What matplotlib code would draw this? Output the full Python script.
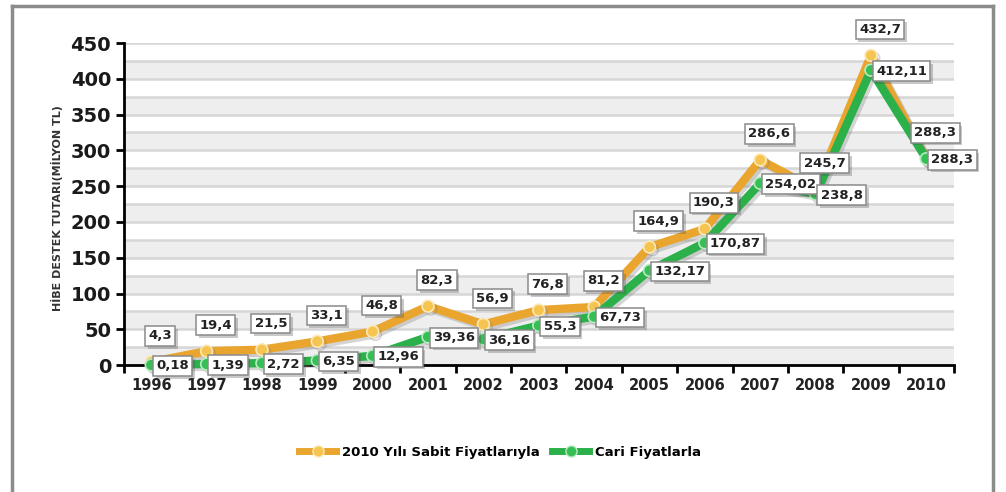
import matplotlib.pyplot as plt
import matplotlib.patheffects as pe
from matplotlib.lines import Line2D

years = ["1996", "1997", "1998", "1999", "2000", "2001", "2002", "2003",
         "2004", "2005", "2006", "2007", "2008", "2009", "2010"]
sabit = [4.3, 19.4, 21.5, 33.1, 46.8, 82.3, 56.9, 76.8, 81.2, 164.9,
         190.3, 286.6, 245.7, 432.7, 288.3]
cari = [0.18, 1.39, 2.72, 6.35, 12.96, 39.36, 36.16, 55.3, 67.73, 132.17,
        170.87, 254.02, 238.8, 412.11, 288.3]
sabit_name = "2010 Yılı Sabit Fiyatlarıyla"
cari_name = "Cari Fiyatlarla"

orange = "#E9A52E"
green = "#2BB04A"

plt.rcParams['font.family'] = ['DejaVu Sans']

fig = plt.figure(figsize=(10.06, 4.92), dpi=100)
ax = fig.add_axes([0.1228, 0.258, 0.8255, 0.6545])

x = list(range(len(years)))

# background bands and grid
for v in range(0, 450, 50):
    ax.axhspan(v, v + 25, color="#eeeeee", zorder=0, lw=0)
for v in range(25, 451, 25):
    ax.axhline(v, color="#d6d6d6", lw=1.8, zorder=0.5)

shadow = [pe.SimpleLineShadow(offset=(2, -2), shadow_color="#777777", alpha=0.3), pe.Normal()]

ax.plot(x, sabit, color=orange, lw=6, marker="o", ms=8.5, mfc="#F6C450",
        mec="#FCE9B8", mew=1.2, zorder=3, clip_on=False, path_effects=shadow)
ax.plot(x, cari, color=green, lw=6, marker="o", ms=8.5, mfc="#36BF55",
        mec="#B8EBC3", mew=1.2, zorder=4, clip_on=False, path_effects=shadow)

box = dict(boxstyle="square,pad=0.25", fc="white", ec="#8a8a8a", lw=1.1)

def fmt(v):
    s = ("%.2f" % v).rstrip("0").rstrip(".")
    return s.replace(".", ",")

for i, v in enumerate(sabit):
    t = ax.annotate(fmt(v), (i, v), xytext=(9, 26), textcoords="offset pixels",
                    ha="center", va="center", fontsize=9.5, fontweight="bold",
                    color="#222222", bbox=box, zorder=6, annotation_clip=False)
    t.get_bbox_patch().set_path_effects([pe.withSimplePatchShadow(offset=(2, -2), alpha=0.3)])

for i, v in enumerate(cari):
    t = ax.annotate(fmt(v), (i, v), xytext=(5, -1), textcoords="offset pixels",
                    ha="left", va="center", fontsize=9.5, fontweight="bold",
                    color="#222222", bbox=box, zorder=7, annotation_clip=False)
    t.get_bbox_patch().set_path_effects([pe.withSimplePatchShadow(offset=(2, -2), alpha=0.3)])

ax.set_xlim(-0.5, len(years) - 0.5)
ax.set_ylim(0, 450)
ax.set_yticks(range(0, 451, 50))
ax.set_xticks(x)
ax.set_xticklabels(years, fontsize=10.5, fontweight="bold", color="#222222")
ax.set_xticks([i + 0.5 for i in range(-1, len(years))], minor=True)
ax.tick_params(axis="x", which="major", length=0, pad=9)
ax.tick_params(axis="x", which="minor", length=6, width=2, direction="out")
ax.tick_params(axis="y", length=6, width=2, labelsize=14, pad=3)
for lbl in ax.get_yticklabels():
    lbl.set_fontweight("bold")
    lbl.set_color("#1a1a1a")

for s in ["top", "right"]:
    ax.spines[s].set_visible(False)
for s in ["left", "bottom"]:
    ax.spines[s].set_linewidth(2)
    ax.spines[s].set_zorder(2)

fig.text(0.057, 0.578, "HİBE DESTEK TUTARI(MİLYON TL)", rotation=90,
         ha="center", va="center", fontsize=8, fontweight="bold", color="#333333")

handles = [
    Line2D([], [], color=orange, lw=5, marker="o", ms=8, mfc="#F6C450", mec="#FCE9B8"),
    Line2D([], [], color=green, lw=5, marker="o", ms=8, mfc="#36BF55", mec="#B8EBC3"),
]
fig.legend(handles, [sabit_name, cari_name], loc="center", bbox_to_anchor=(0.497, 0.081),
           ncol=2, frameon=False, prop={"weight": "bold", "size": 9.5},
           handlelength=2.8, columnspacing=1.0, handletextpad=0.4)

# outer frame
fc = "#8c8c8c"
fig.add_artist(Line2D([0.012, 0.012], [0, 0.988], color=fc, lw=2.5, transform=fig.transFigure))
fig.add_artist(Line2D([0.012, 0.987], [0.988, 0.988], color=fc, lw=2.5, transform=fig.transFigure))
fig.add_artist(Line2D([0.987, 0.987], [0, 0.988], color=fc, lw=2.5, transform=fig.transFigure))

fig.savefig("out.png", dpi=100)
